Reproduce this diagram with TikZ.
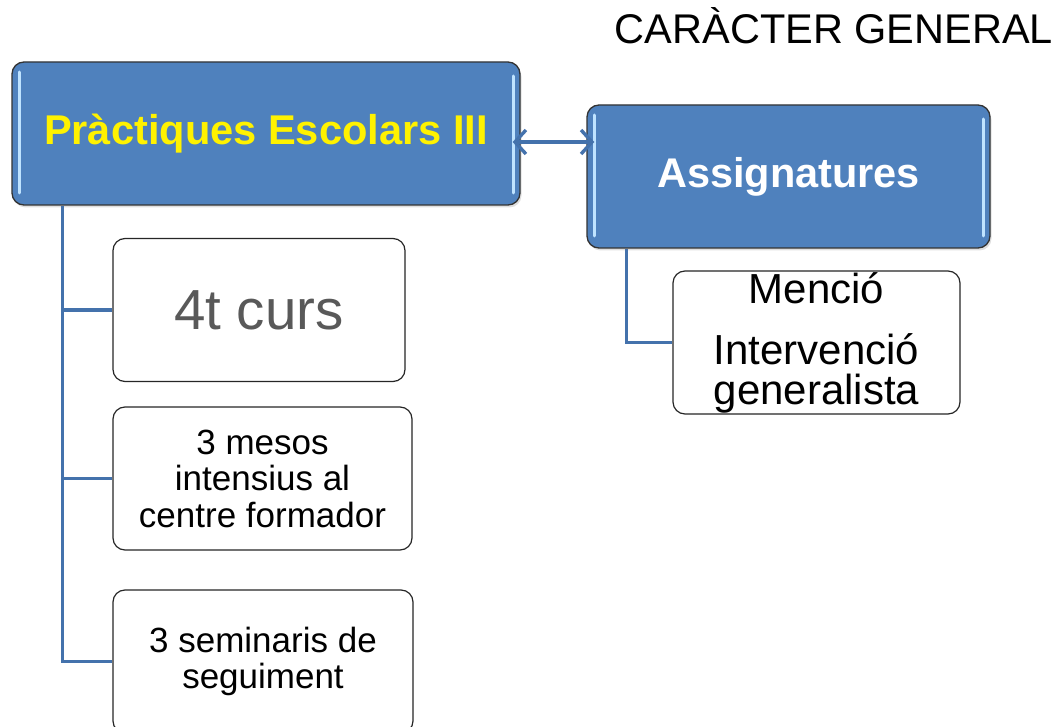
\documentclass[tikz,border=0pt]{standalone}
\usepackage{fontspec}
\setmainfont{Liberation Sans}
\usetikzlibrary{arrows.meta,shadows}
\definecolor{boxblue}{HTML}{4F81BD}
\definecolor{lineblue}{HTML}{4472AC}
\definecolor{shine}{HTML}{BFE3FF}
\definecolor{cursgray}{HTML}{595959}

\begin{document}
\begin{tikzpicture}[x=1pt,y=-1pt,
  bluebox/.style={draw=black!80, line width=1.3pt, fill=boxblue, rounded corners=12pt,
    inner sep=0pt, drop shadow={opacity=0.25, shadow xshift=1.5pt, shadow yshift=-2.5pt},
    path picture={
      \draw[shine, line width=3pt, line cap=round]
        ([xshift=7pt,yshift=-10pt]path picture bounding box.north west) -- ([xshift=7pt,yshift=12pt]path picture bounding box.south west)
        ([xshift=-7pt,yshift=-14pt]path picture bounding box.north east) -- ([xshift=-7pt,yshift=12pt]path picture bounding box.south east);}},
  whitebox/.style={draw=black!85, line width=1.2pt, fill=white, rounded corners=12pt,
    inner sep=0pt, align=center},
  conn/.style={lineblue, line width=3.4pt},
  dbl/.style={lineblue, line width=3.4pt, {Straight Barb[length=11pt,width=24pt]}-{Straight Barb[length=11pt,width=24pt]}}]
\useasboundingbox (0,0) rectangle (1060,727);

% title
\node[anchor=base] (titol) at (834,44) {\fontsize{41.5}{46}\selectfont CARÀCTER GENERAL};

% main boxes
\node[bluebox, minimum width=508pt, minimum height=143pt] (prac) at (266,133.5)
  {\fontsize{41.6}{46}\selectfont\bfseries\color{yellow}Pràctiques Escolars III};
\node[bluebox, minimum width=403pt, minimum height=143pt] (assig) at (788.5,176.5)
  {\fontsize{41.5}{46}\selectfont\bfseries\color{white}Assignatures};
\draw[dbl] ([xshift=-8pt,yshift=-8.5pt]prac.east) -- ([xshift=8pt,yshift=-8.5pt]prac.east -| assig.west);

% left branch
\node[whitebox, minimum width=292pt, minimum height=143pt, text=cursgray,
  font={\fontsize{56.5}{62}\selectfont}] (curs) at (259,310) {4t curs};
\node[whitebox, minimum width=299pt, minimum height=143pt,
  font={\fontsize{35}{36.5}\selectfont}] (mesos) at (262.5,478.5) {3 mesos\\intensius al\\centre formador};
\node[whitebox, minimum width=300pt, minimum height=143pt,
  font={\fontsize{35}{36}\selectfont}] (semin) at (263,661.5) {3 seminaris de\\seguiment};
\draw[conn] ([xshift=51pt]prac.south west) |- (curs.west);
\draw[conn] ([xshift=51pt]prac.south west) |- (mesos.west);
\draw[conn] ([xshift=51pt]prac.south west) |- (semin.west);

% right branch
\node[whitebox, minimum width=287pt, minimum height=143pt,
  font={\fontsize{42}{40}\selectfont}] (mencio) at (816.5,342.5) {Menció\\[21pt]Intervenció\\generalista};
\draw[conn] ([xshift=40pt]assig.south west) |- (mencio.west);
\end{tikzpicture}
\end{document}
